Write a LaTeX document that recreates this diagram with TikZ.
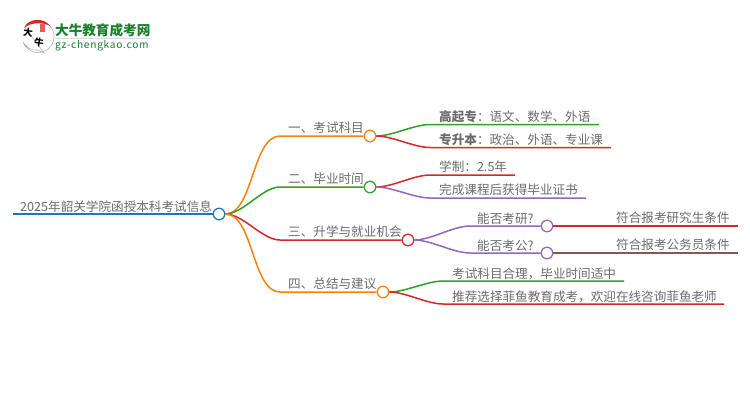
\documentclass[tikz,border=0pt]{standalone}
\usepackage{fontspec}
\setmainfont{Noto Sans CJK SC}
\definecolor{lineorange}{HTML}{FF7F0E}
\definecolor{linegreen}{HTML}{2CA02C}
\definecolor{linered}{HTML}{D62728}
\definecolor{linepurple}{HTML}{9467BD}
\definecolor{lineblue}{HTML}{1F77B4}
\definecolor{linebrown}{HTML}{8C564B}
\definecolor{logogreen}{HTML}{1B7F2E}
\tikzset{
    dot/.style={circle,draw,fill=white,line width=1.3pt,minimum size=11.5pt,inner sep=0pt},
    label/.style={anchor=base west,inner sep=0pt,text=black!58,font=\fontsize{12.6}{14}\selectfont},
    branch/.style={line width=1.5pt,out=0,in=180,looseness=0.75}
}
\begin{document}
\begin{tikzpicture}[x=1pt,y=-1pt]
    \useasboundingbox (0,0) rectangle (750,410);
    % logo
    \draw[black!30,line width=0.6pt,fill=white] (23,42) arc[start angle=160,end angle=-145,radius=16] -- (44,53) -- (38,50) .. controls (31,51) and (26,47) .. (23,42);
    \fill[linered] (24,28) .. controls (28,18) and (44,17) .. (50,26) .. controls (43,22) and (31,22) .. (24,28);
    \fill[linered!75] (40,24) rectangle (45,32);
    \node[inner sep=0pt,rotate=-8,font=\fontsize{9.5}{10}\selectfont\bfseries] (logodaniu) at (28,33) {大};
    \node[inner sep=0pt,rotate=-8,font=\fontsize{9.5}{10}\selectfont\bfseries] (logoniu) at (39,43) {牛};
    \node[label,text=logogreen,font=\fontsize{13.6}{15}\selectfont\bfseries] (logotitle) at (55,35) {大牛教育成考网};
    \node[label,text=logogreen,font=\fontsize{10.2}{12}\selectfont\addfontfeature{LetterSpace=7}] (logourl) at (55,48) {gz-chengkao.com};
    \draw[black!15,line width=0.6pt] (55,38.5) -- (150,38.5);

    % root
    \coordinate (rootstart) at (13,214);
    \node[dot,draw=lineblue] (root) at (219,214) {};
    \node[label] (roottext) at (20,211) {2025年韶关学院函授本科考试信息};
    \draw[lineblue,line width=1.5pt] (rootstart) -- (root);

    % first level
    \node[dot,draw=lineorange] (kemu) at (370,136) {};
    \node[dot,draw=linegreen] (shijian) at (370,187) {};
    \node[dot,draw=linered] (jihui) at (408,240) {};
    \node[dot,draw=lineorange] (jianyi) at (383,292) {};
    \node[label] (kemutext) at (288,132) {一、考试科目};
    \node[label] (shijiantext) at (288,183) {二、毕业时间};
    \node[label] (jihuitext) at (288,236) {三、升学与就业机会};
    \node[label] (jianyitext) at (288,288) {四、总结与建议};
    \coordinate (kemubend) at (280,136);
    \coordinate (shijianbend) at (280,187);
    \coordinate (jihuibend) at (280,240);
    \coordinate (jianyibend) at (280,292);
    \draw[branch,lineorange] (root.east) to (kemubend) -- (kemu);
    \draw[branch,linegreen] (root.east) to (shijianbend) -- (shijian);
    \draw[branch,linered] (root.east) to (jihuibend) -- (jihui);
    \draw[branch,lineorange] (root.east) to (jianyibend) -- (jianyi);

    % second level
    \node[label] (gaoqi) at (439,121) {\textbf{高起专}：语文、数学、外语};
    \node[label] (zhuansheng) at (439,144) {\textbf{专升本}：政治、外语、专业课};
    \node[label] (xuezhi) at (439,171) {学制：2.5年};
    \node[label] (wancheng) at (439,194) {完成课程后获得毕业证书};
    \node[label] (kaoyan) at (477,223) {能否考研?};
    \node[label] (kaogong) at (477,250) {能否考公?};
    \node[label] (heli) at (452,278) {考试科目合理，毕业时间适中};
    \node[label] (tuijian) at (452,301) {推荐选择菲鱼教育成考，欢迎在线咨询菲鱼老师};
    \coordinate (gaoqibend) at (430,124.5);
    \coordinate (gaoqiend) at (599,124.5);
    \coordinate (zhuanshengbend) at (430,147.5);
    \coordinate (zhuanshengend) at (611,147.5);
    \coordinate (xuezhibend) at (430,175);
    \coordinate (xuezhiend) at (515,175);
    \coordinate (wanchengbend) at (430,198);
    \coordinate (wanchengend) at (586,198);
    \coordinate (heliend) at (624,281);
    \coordinate (helibend) at (443,281);
    \coordinate (tuijianend) at (724,304);
    \coordinate (tuijianbend) at (443,304);
    \coordinate (kaoyanbend) at (470,226);
    \coordinate (kaogongbend) at (470,253);
    \node[dot,draw=linepurple] (kaoyandot) at (547,226) {};
    \node[dot,draw=linepurple] (kaogongdot) at (547,253) {};
    \draw[branch,linegreen] (kemu.east) to (gaoqibend) -- (gaoqiend);
    \draw[branch,linered] (kemu.east) to (zhuanshengbend) -- (zhuanshengend);
    \draw[branch,linered] (shijian.east) to (xuezhibend) -- (xuezhiend);
    \draw[branch,linepurple] (shijian.east) to (wanchengbend) -- (wanchengend);
    \draw[branch,linepurple] (jihui.east) to (kaoyanbend) -- (kaoyandot);
    \draw[branch,linepurple] (jihui.east) to (kaogongbend) -- (kaogongdot);
    \draw[branch,linegreen] (jianyi.east) to (helibend) -- (heliend);
    \draw[branch,linered] (jianyi.east) to (tuijianbend) -- (tuijianend);

    % third level
    \node[label] (yanjiu) at (616,222) {符合报考研究生条件};
    \node[label] (gongwu) at (616,249) {符合报考公务员条件};
    \coordinate (yanjiuend) at (738,226);
    \coordinate (gongwuend) at (738,253);
    \draw[linered,line width=1.5pt] (kaoyandot) -- (yanjiuend);
    \draw[linebrown,line width=1.5pt] (kaogongdot) -- (gongwuend);
\end{tikzpicture}
\end{document}
